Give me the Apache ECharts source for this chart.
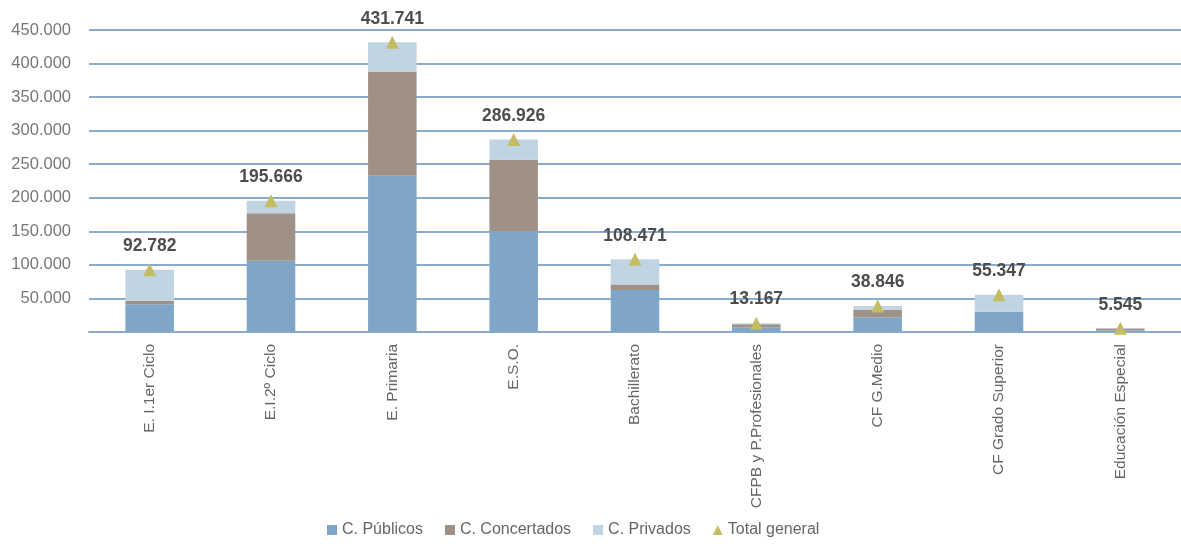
<!DOCTYPE html>
<html><head><meta charset="utf-8">
<script src="https://cdn.jsdelivr.net/npm/echarts@6/dist/echarts.min.js"></script>
<style>html,body{margin:0;padding:0;background:#fff}#c{width:1181px;height:544px}</style>
</head><body><div id="c"></div>
<script>
const categories = ['E. I.1er Ciclo','E.I.2º Ciclo','E. Primaria','E.S.O.','Bachillerato','CFPB y P.Profesionales','CF G.Medio','CF Grado Superior','Educación Especial'];
const publicos    = [41500, 106000, 233000, 150500, 62400, 7000, 22000, 30000, 2300];
const concertados = [5000, 71000, 155000, 106000, 8400, 4500, 11000, 300, 2900];
const privados    = [46282, 18666, 43741, 30426, 37671, 1667, 5846, 25047, 345];
const totales     = [92782, 195666, 431741, 286926, 108471, 13167, 38846, 55347, 5545];
const yTicks = [0, 50000, 100000, 150000, 200000, 250000, 300000, 350000, 400000, 450000];

const fmt = v => String(v).replace(/\B(?=(\d{3})+(?!\d))/g, '.');
const FONT = '"Liberation Sans Narrow","Liberation Sans",Arial,sans-serif';
const chart = echarts.init(document.getElementById('c'));
chart.setOption({
  animation: false,
  textStyle: {fontFamily: FONT},
  grid: {left: 89, right: 0, top: 30, bottom: 212, containLabel: false},
  legend: {
    bottom: 1, left: 322, itemWidth: 10, itemHeight: 10, itemGap: 22,
    textStyle: {fontFamily: FONT, fontSize: 16, color: '#666'},
    data: [
      {name: 'C. Públicos', icon: 'rect'},
      {name: 'C. Concertados', icon: 'rect'},
      {name: 'C. Privados', icon: 'rect'},
      {name: 'Total general', icon: 'triangle'}
    ]
  },
  xAxis: {
    type: 'category', data: categories,
    axisLine: {lineStyle: {color: '#8aaccf', width: 2}},
    axisTick: {show: false},
    axisLabel: {rotate: 90, fontSize: 15.5, color: '#666', fontFamily: FONT, margin: 12}
  },
  yAxis: {
    type: 'value', min: yTicks[0], max: yTicks[yTicks.length - 1], interval: 50000,
    axisLine: {show: false}, axisTick: {show: false},
    splitLine: {lineStyle: {color: '#8aaccf', width: 2}},
    axisLabel: {fontSize: 16.5, color: '#777', fontFamily: FONT, margin: 18,
      formatter: v => v === 0 ? '' : fmt(v)}
  },
  series: [
    {name: 'C. Públicos', type: 'bar', stack: 't', barWidth: '40%', data: publicos, itemStyle: {color: '#7fa6c8'}},
    {name: 'C. Concertados', type: 'bar', stack: 't', data: concertados, itemStyle: {color: '#a09186'}},
    {name: 'C. Privados', type: 'bar', stack: 't', data: privados, itemStyle: {color: '#c1d4e2'}},
    {name: 'Total general', type: 'line', data: totales, symbol: 'triangle', symbolSize: 13,
      lineStyle: {opacity: 0}, itemStyle: {color: '#c4bc62'},
      label: {show: true, position: 'top', distance: 8, fontSize: 17.5, fontWeight: 'bold',
        color: '#4d4d4d', fontFamily: '"Liberation Sans",Arial,sans-serif', formatter: p => fmt(p.value)}}
  ]
});
</script></body></html>
